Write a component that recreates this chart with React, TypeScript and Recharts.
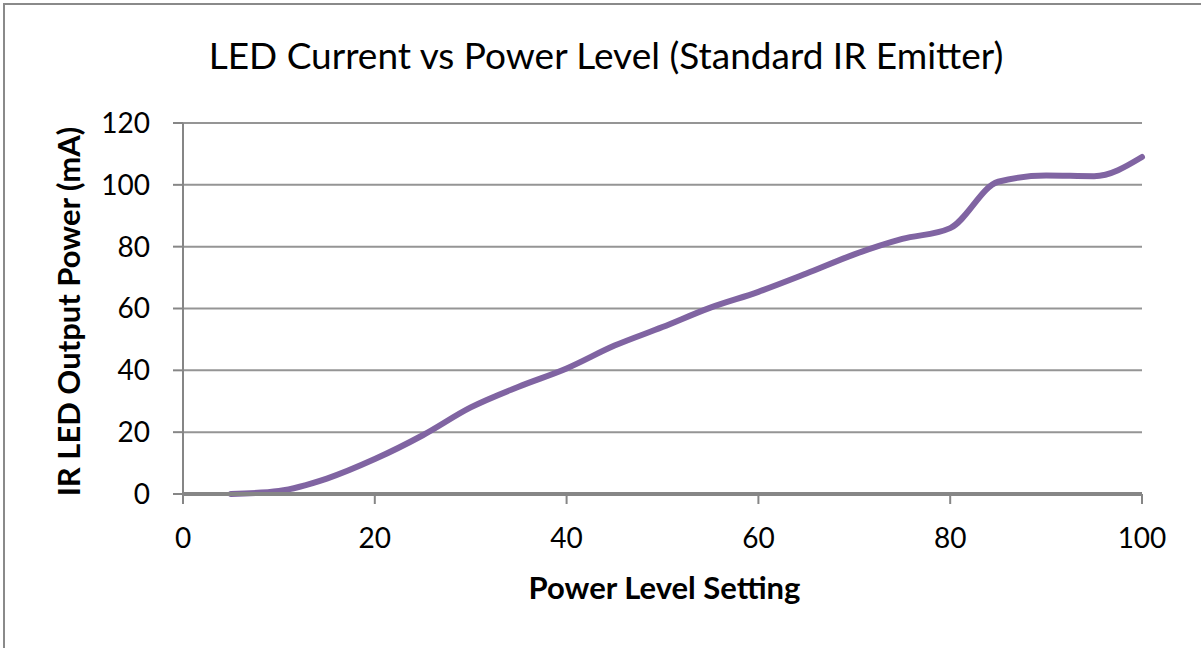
import { CartesianGrid, Label, Line, LineChart, XAxis, YAxis } from "recharts";

const LEVELS = [5, 10, 15, 20, 25, 30, 35, 40, 45, 50, 55, 60, 65, 70, 75, 80, 85, 90, 95, 100];
const CURRENT_MA = [0, 1, 5, 11.3, 19, 28, 34.7, 40.6, 48, 54, 60.3, 65.4, 71.3, 77.5, 82.5, 86, 101, 103, 102.8, 109];

const X_TICKS = [0, 20, 40, 60, 80, 100];
const Y_TICKS = [0, 20, 40, 60, 80, 100, 120];

const TITLE = "LED Current vs Power Level (Standard IR Emitter)";
const X_LABEL = "Power Level Setting";
const Y_LABEL = "IR LED Output Power (mA)";

const LINE_COLOR = "#8064a2"; // office purple
const AXIS_COLOR = "#868686";
const GRID_COLOR = "#959595";
const FONT = "Lato, 'Open Sans', sans-serif";

const data = LEVELS.map((level, i) => ({ level, current: CURRENT_MA[i] }));

function YTitle({ viewBox }: any) {
  const x = viewBox.x + 80;
  const y = viewBox.y + viewBox.height / 2 + 3;
  return (
    <text
      x={x}
      y={y}
      transform={`rotate(-90, ${x}, ${y})`}
      textAnchor="middle"
      fontFamily={FONT}
      fontWeight={700}
      fontSize={31}
      fill="#000"
    >
      {Y_LABEL}
    </text>
  );
}

function XTitle({ viewBox }: any) {
  return (
    <text
      x={viewBox.x + viewBox.width / 2 + 2}
      y={viewBox.y + 105}
      textAnchor="middle"
      fontFamily={FONT}
      fontWeight={700}
      fontSize={31}
      fill="#000"
    >
      {X_LABEL}
    </text>
  );
}

export default function App() {
  return (
    <div
      style={{
        position: "relative",
        width: 1201,
        height: 648,
        overflow: "hidden",
        background: "#fff",
        fontFamily: FONT,
      }}
    >
      <style>{"body{margin:0}"}</style>
      {/* chart frame: only its left and top edges fall inside the picture */}
      <div
        style={{
          position: "absolute",
          left: 3,
          top: 3,
          width: 1400,
          height: 900,
          border: "2px solid #8a8a8a",
        }}
      />
      <svg style={{ position: "absolute", left: 0, top: 0 }} width={1201} height={100}>
        <text x={606} y={69} textAnchor="middle" fontFamily={FONT} fontSize={37} fill="#000">
          {TITLE}
        </text>
      </svg>
      <div style={{ position: "absolute", left: 0, top: 0 }}>
        <LineChart
          width={1201}
          height={648}
          data={data}
          margin={{ top: 123, right: 59, left: 0, bottom: 0 }}
        >
          <CartesianGrid vertical={false} stroke={GRID_COLOR} strokeWidth={2} />
          <XAxis
            type="number"
            dataKey="level"
            domain={[0, 100]}
            ticks={X_TICKS}
            interval={0}
            height={154}
            tickSize={10}
            tickMargin={24}
            axisLine={{ stroke: AXIS_COLOR, strokeWidth: 4 }}
            tickLine={{ stroke: AXIS_COLOR, strokeWidth: 2 }}
            tick={{ fontSize: 28, fill: "#000", fontFamily: FONT }}
          >
            <Label content={<XTitle />} />
          </XAxis>
          <YAxis
            type="number"
            domain={[0, 120]}
            ticks={Y_TICKS}
            interval={0}
            width={183}
            tickSize={10}
            tickMargin={23}
            axisLine={{ stroke: AXIS_COLOR, strokeWidth: 2 }}
            tickLine={{ stroke: AXIS_COLOR, strokeWidth: 2 }}
            tick={{ fontSize: 28, fill: "#000", fontFamily: FONT }}
          >
            <Label content={<YTitle />} />
          </YAxis>
          <Line
            type="monotone"
            dataKey="current"
            stroke={LINE_COLOR}
            strokeWidth={6}
            strokeLinecap="round"
            dot={false}
            activeDot={false}
            isAnimationActive={false}
          />
        </LineChart>
      </div>
    </div>
  );
}
